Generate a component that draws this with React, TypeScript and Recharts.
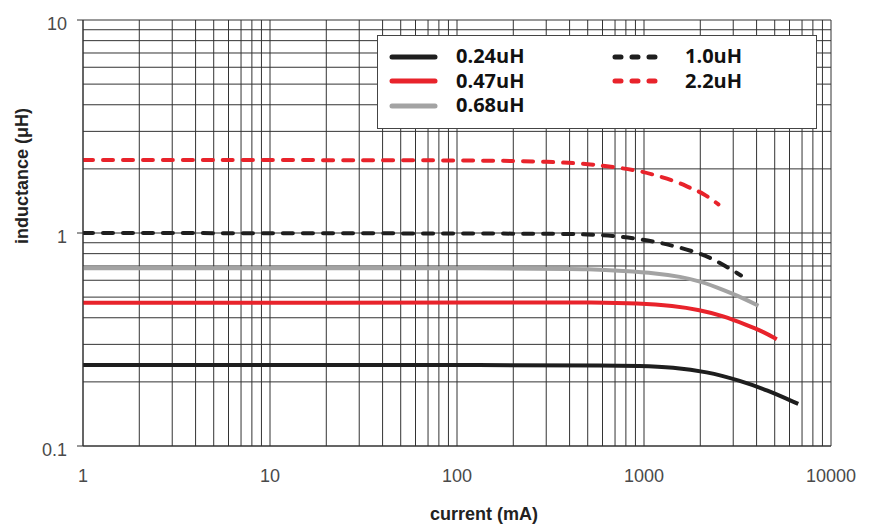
import React from 'react';
import { LineChart, Line, XAxis, YAxis, CartesianGrid, Legend } from 'recharts';

// ---- tick values ----
const xTicks = [
  1, 2, 3, 4, 5, 6, 7, 8, 9,
  10, 20, 30, 40, 50, 60, 70, 80, 90,
  100, 200, 300, 400, 500, 600, 700, 800, 900,
  1000, 2000, 3000, 4000, 5000, 6000, 7000, 8000, 9000,
  10000,
];
const yTicks = [0.1, 0.2, 0.3, 0.4, 0.5, 0.6, 0.7, 0.8, 0.9, 1, 2, 3, 4, 5, 6, 7, 8, 9, 10];
const xTickLabels = ['1', '10', '100', '1000', '10000'];
const yTickLabels = ['0.1', '1', '10'];

// ---- series data (current in mA, inductance in uH) ----
const current024 = [1, 300, 600, 950, 1430, 2160, 3260, 4530, 6680];
const induct024 = [0.24, 0.24, 0.239, 0.2375, 0.234, 0.2236, 0.2028, 0.1834, 0.1576];

const current047 = [1, 300, 514, 950, 1430, 1990, 2650, 3540, 4350, 5130];
const induct047 = [0.47, 0.472, 0.472, 0.468, 0.455, 0.435, 0.408, 0.37, 0.344, 0.317];

const current068 = [1, 300, 514, 775, 1170, 1560, 2040, 2650, 3400, 4090];
const induct068 = [0.684, 0.684, 0.676, 0.663, 0.647, 0.624, 0.591, 0.54, 0.494, 0.455];

const current10 = [1, 300, 514, 714, 950, 1220, 1500, 1990, 2450, 3300];
const induct10 = [1.0, 0.995, 0.986, 0.967, 0.937, 0.9, 0.862, 0.803, 0.741, 0.632];

const current22 = [1, 150, 314, 514, 714, 950, 1220, 1500, 1760, 2080, 2500];
const induct22 = [2.2, 2.2, 2.16, 2.11, 2.03, 1.96, 1.84, 1.74, 1.63, 1.536, 1.363];

const seriesNames = ['0.24uH', '0.47uH', '0.68uH', '1.0uH', '2.2uH'];

const zip = (xs: number[], ys: number[]) => xs.map((x, i) => ({ x, y: ys[i] }));

const series = [
  { name: seriesNames[0], data: zip(current024, induct024), color: '#1e1e1e', dashed: false },
  { name: seriesNames[1], data: zip(current047, induct047), color: '#e8232b', dashed: false },
  { name: seriesNames[2], data: zip(current068, induct068), color: '#a3a3a3', dashed: false },
  { name: seriesNames[3], data: zip(current10, induct10), color: '#1e1e1e', dashed: true },
  { name: seriesNames[4], data: zip(current22, induct22), color: '#e8232b', dashed: true },
];

const tickFont = "'Liberation Sans Narrow', 'Liberation Sans', Arial, sans-serif";

const XTick = (props: any) => {
  const { x, y, payload } = props;
  const label = String(payload.value);
  if (!xTickLabels.includes(label)) return <g />;
  return (
    <text x={x} y={y + 35.5} textAnchor="middle" fontFamily={tickFont} fontSize={18} fill="#4a4a4a">
      {label}
    </text>
  );
};

const YTick = (props: any) => {
  const { x, y, payload } = props;
  const label = String(payload.value);
  if (!yTickLabels.includes(label)) return <g />;
  return (
    <g>
      <line x1={x + 10} x2={x + 16} y1={y} y2={y} stroke="#333" strokeWidth={1} />
      <text x={x} y={y + 9.5} textAnchor="end" fontFamily={tickFont} fontSize={18} fill="#4a4a4a">
        {label}
      </text>
    </g>
  );
};

const LegendBox = () => (
  <div
    style={{
      width: 440,
      height: 94,
      boxSizing: 'border-box',
      border: '1.5px solid #444',
      background: '#fff',
      position: 'relative',
    }}
  >
    {series.map((s, i) => {
      const col = i < 3 ? 0 : 1;
      const row = i < 3 ? i : i - 3;
      const cy = 20.5 + row * 24.7;
      const lineLeft = col ? 237 : 14;
      const textLeft = col ? 307 : 78;
      return (
        <React.Fragment key={s.name}>
          <svg
            style={{ position: 'absolute', left: lineLeft - 4, top: cy - 5 }}
            width={52}
            height={10}
          >
            <line
              x1={4}
              x2={47}
              y1={5}
              y2={5}
              stroke={s.color}
              strokeWidth={5}
              strokeLinecap="round"
              strokeDasharray={s.dashed ? '6 11' : undefined}
            />
          </svg>
          <span
            style={{
              position: 'absolute',
              left: textLeft,
              top: cy - 10.6,
              fontFamily: "'Open Sans', sans-serif",
              fontWeight: 700,
              fontSize: 20,
              lineHeight: '20px',
              color: '#111',
              whiteSpace: 'nowrap',
            }}
          >
            {s.name}
          </span>
        </React.Fragment>
      );
    })}
  </div>
);

const XTitle = (props: any) => {
  const vb = props.viewBox || { x: 83, y: 446, width: 748, height: 78 };
  return (
    <text
      x={vb.x + 401}
      y={vb.y + 74}
      textAnchor="middle"
      fontFamily={tickFont}
      fontWeight={700}
      fontSize={18}
      fill="#222"
    >
      current (mA)
    </text>
  );
};

const YTitle = (props: any) => {
  const vb = props.viewBox || { x: 0, y: 20, width: 83, height: 426 };
  const cx = vb.x + 28;
  const cy = 176;
  return (
    <text
      x={cx}
      y={cy}
      transform={`rotate(-90 ${cx} ${cy})`}
      textAnchor="middle"
      fontFamily={tickFont}
      fontWeight={700}
      fontSize={18}
      fill="#222"
    >
      inductance (μH)
    </text>
  );
};

export default function App() {
  return (
    <div style={{ position: 'absolute', left: 0, top: 0, background: '#fff' }}>
      <LineChart width={870} height={524} margin={{ top: 20, right: 39, bottom: 0, left: 0 }}>
        <CartesianGrid stroke="#333" strokeWidth={1} />
        <XAxis
          type="number"
          dataKey="x"
          scale="log"
          domain={[1, 10000]}
          ticks={xTicks}
          allowDataOverflow
          height={78}
          tickSize={0}
          tickMargin={0}
          tickLine={false}
          axisLine={{ stroke: '#333' }}
          tick={<XTick />}
          interval={0}
          label={<XTitle />}
        />
        <YAxis
          type="number"
          dataKey="y"
          scale="log"
          domain={[0.1, 10]}
          ticks={yTicks}
          allowDataOverflow
          width={83}
          tickSize={6}
          tickMargin={10}
          tickLine={false}
          axisLine={{ stroke: '#333' }}
          tick={<YTick />}
          interval={0}
          label={<YTitle />}
        />
        <Legend
          layout="horizontal"
          verticalAlign="middle"
          align="center"
          wrapperStyle={{ left: 377, top: 35, width: 440, height: 94 }}
          content={<LegendBox />}
        />
        {series.map((s) => (
          <Line
            key={s.name}
            name={s.name}
            data={s.data}
            dataKey="y"
            type="basis"
            stroke={s.color}
            strokeWidth={4}
            strokeDasharray={s.dashed ? '10 10' : undefined}
            strokeLinecap={s.dashed ? 'round' : 'butt'}
            dot={false}
            activeDot={false}
            isAnimationActive={false}
          />
        ))}
      </LineChart>
    </div>
  );
}
